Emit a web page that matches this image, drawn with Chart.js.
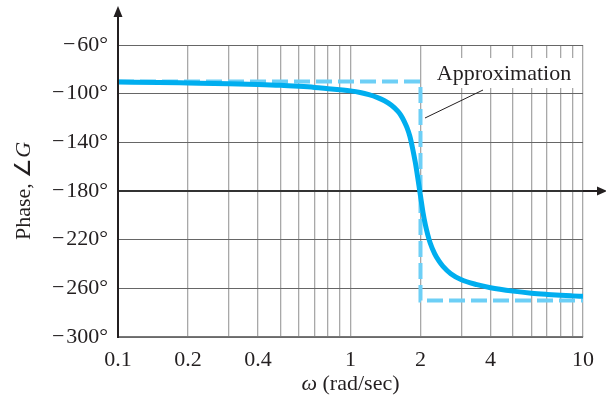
<!DOCTYPE html>
<html>
<head>
<meta charset="utf-8">
<script src="https://cdn.jsdelivr.net/npm/chart.js@4"></script>
<style>
html,body{margin:0;padding:0;background:#fff;}
#wrap{width:606px;height:410px;}
</style>
</head>
<body>
<div id="wrap"><canvas id="c" width="606" height="410"></canvas></div>
<script>
// ---- data ----
const omega = [0.1,0.15,0.2,0.3,0.4,0.5,0.6,0.7,0.8,0.9,1.0,1.1,1.2,1.3,1.4,1.5,1.6,1.65,1.7,1.75,1.8,1.85,1.9,1.95,2.0,2.05,2.1,2.15,2.2,2.3,2.4,2.5,2.7,3.0,3.5,4,5,6,7,8,9,10];
const phase = [-90.5,-90.8,-91.2,-91.8,-92.4,-93.1,-94,-94.9,-95.9,-96.8,-97.7,-99,-100.8,-103,-105.8,-109.5,-114.5,-118,-122.5,-128,-135,-145,-156.5,-170,-184,-197.5,-208,-216,-222.5,-231.5,-237.5,-242,-248,-253,-257,-259.5,-262.3,-264,-265,-265.7,-266.2,-266.6];
const approxOmega = [0.1,2,2,10];
const approxPhase = [-90,-90,-270,-270];
const xGridValues = [0.1,0.2,0.3,0.4,0.5,0.6,0.7,0.8,0.9,1,2,3,4,5,6,7,8,9,10];
const xTickLabels = ['0.1','0.2','0.4','1','2','4','10'];
const yTickValues = [-60,-100,-140,-180,-220,-260,-300];
const yTitle = 'Phase, ∠';
const yTitleItalic = 'G';
const xTitleItalic = 'ω';
const xTitle = ' (rad/sec)';
const annotationText = 'Approximation';

const FONT = '"Liberation Serif","Times New Roman",serif';
const TXT = '#231f20';

const extras = {
  id: 'extras',
  afterDatasetsDraw(chart) {
    const ctx = chart.ctx, a = chart.chartArea;
    const ys = chart.scales.y;
    ctx.save();
    // annotation box + label
    ctx.fillStyle = '#fff';
    ctx.fillRect(430, 58, 148, 30);
    ctx.fillStyle = TXT;
    ctx.font = '22px ' + FONT;
    ctx.textAlign = 'center';
    ctx.textBaseline = 'middle';
    ctx.fillText(annotationText, 504, 74);
    // leader line
    ctx.strokeStyle = '#231f20';
    ctx.lineWidth = 1;
    ctx.beginPath();
    ctx.moveTo(483, 90);
    ctx.lineTo(425, 118);
    ctx.stroke();
    // y-axis line with arrow
    ctx.strokeStyle = '#231f20';
    ctx.lineWidth = 2;
    ctx.beginPath();
    ctx.moveTo(a.left, a.bottom);
    ctx.lineTo(a.left, 14);
    ctx.stroke();
    ctx.fillStyle = '#231f20';
    ctx.beginPath();
    ctx.moveTo(a.left, 6);
    ctx.lineTo(a.left - 4.5, 17);
    ctx.lineTo(a.left + 4.5, 17);
    ctx.closePath();
    ctx.fill();
    // -180 line extension with arrow
    const y180 = ys.getPixelForValue(-180);
    ctx.lineWidth = 2;
    ctx.beginPath();
    ctx.moveTo(a.right, y180);
    ctx.lineTo(600, y180);
    ctx.stroke();
    ctx.beginPath();
    ctx.moveTo(607, y180);
    ctx.lineTo(597, y180 - 4.5);
    ctx.lineTo(597, y180 + 4.5);
    ctx.closePath();
    ctx.fill();
    // x title
    ctx.font = 'italic 22px ' + FONT;
    const w1 = ctx.measureText(xTitleItalic).width;
    ctx.font = '22px ' + FONT;
    const w2 = ctx.measureText(xTitle).width;
    let x0 = (a.left + a.right) / 2 - (w1 + w2) / 2;
    ctx.textAlign = 'left';
    ctx.textBaseline = 'middle';
    ctx.fillStyle = TXT;
    ctx.font = 'italic 22px ' + FONT;
    ctx.fillText(xTitleItalic, x0, 384);
    ctx.font = '22px ' + FONT;
    ctx.fillText(xTitle, x0 + w1, 384);
    // y title (rotated)
    ctx.save();
    ctx.translate(24, (a.top + a.bottom) / 2);
    ctx.rotate(-Math.PI / 2);
    ctx.font = '22px ' + FONT;
    const v1 = ctx.measureText(yTitle).width;
    ctx.font = 'italic 22px ' + FONT;
    const v2 = ctx.measureText(yTitleItalic).width;
    let s0 = -(v1 + v2) / 2;
    ctx.font = '22px ' + FONT;
    ctx.fillText(yTitle, s0, 0);
    ctx.font = 'italic 22px ' + FONT;
    ctx.fillText(yTitleItalic, s0 + v1, 0);
    ctx.restore();
    ctx.restore();
  }
};

new Chart(document.getElementById('c'), {
  type: 'line',
  data: {
    datasets: [
      {
        label: 'Exact',
        data: omega.map((w, i) => ({x: w, y: phase[i]})),
        borderColor: '#00aeef',
        borderWidth: 5,
        pointRadius: 0,
        cubicInterpolationMode: 'monotone',
        fill: false,
        order: 1
      },
      {
        label: 'Approximation',
        data: approxOmega.map((w, i) => ({x: w, y: approxPhase[i]})),
        borderColor: '#6dcff6',
        borderWidth: 4,
        borderDash: [16, 6],
        pointRadius: 0,
        tension: 0,
        fill: false,
        order: 2
      }
    ]
  },
  options: {
    responsive: false,
    animation: false,
    devicePixelRatio: 1,
    layout: {padding: {top: 45, right: 23, left: 0, bottom: 0}},
    plugins: {legend: {display: false}, tooltip: {enabled: false}},
    scales: {
      x: {
        type: 'logarithmic',
        min: 0.1,
        max: 10,
        afterFit(s) { s.height = 73; },
        afterBuildTicks(s) { s.ticks = xGridValues.map(v => ({value: v})); },
        grid: {color: '#a8a8a8', lineWidth: 1.3, drawTicks: false},
        border: {color: '#777', width: 1.3},
        ticks: {
          autoSkip: false,
          maxRotation: 0,
          padding: 10,
          color: TXT,
          font: {family: FONT, size: 22},
          callback(v) {
            const lbl = String(+v.toFixed(2));
            return xTickLabels.includes(lbl) ? lbl : '';
          }
        }
      },
      y: {
        type: 'linear',
        min: -300,
        max: -60,
        afterFit(s) { s.width = 118; },
        afterBuildTicks(s) { s.ticks = yTickValues.map(v => ({value: v})); },
        grid: {
          color: (c) => (c.tick && c.tick.value === -180) ? '#333' : '#666',
          lineWidth: (c) => (c.tick && c.tick.value === -180) ? 2 : 1,
          drawTicks: false
        },
        border: {color: '#231f20', width: 2},
        ticks: {
          padding: 10,
          color: TXT,
          font: {family: FONT, size: 22},
          callback(v) { return '\u2212\u200A' + Math.abs(v) + '°'; }
        }
      }
    }
  },
  plugins: [extras]
});
</script>
</body>
</html>
